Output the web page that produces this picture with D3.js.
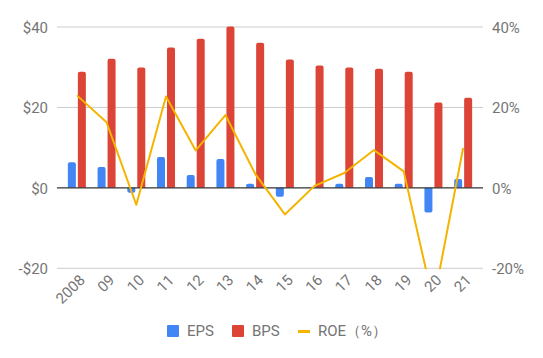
<!DOCTYPE html>
<html><head><meta charset="utf-8">
<script src="https://cdn.jsdelivr.net/npm/d3@7"></script>
<style>body{margin:0;background:#fff}svg{display:block}text{font-family:Roboto,sans-serif}</style>
</head><body><svg id="c" width="543" height="358"></svg>
<script>
const categories = ["2008","09","10","11","12","13","14","15","16","17","18","19","20","21"];
const eps = [6.4,5.2,-1.2,7.7,3.2,7.2,1.0,-2.2,0,1.0,2.7,1.0,-6.1,2.2];
const bps = [28.9,32.1,29.9,34.9,37.1,40.1,36.1,31.9,30.4,29.9,29.6,28.9,21.2,22.4];
const roe = [23.0,16.3,-4.2,22.7,9.3,18.1,3.5,-6.6,0.5,3.7,9.4,4.1,-28.5,9.9];
const leftTicks = [-20,0,20,40];
const rightTicks = [-20,0,20,40];
const seriesNames = ["EPS","BPS","ROE（%）"];
const colors = ["#4285f4","#db4437","#f4b400"];

const svg = d3.select("#c");
const gx0 = 57, gx1 = 483;
const x = d3.scaleBand().domain(categories).range([62,478]).paddingInner(0).paddingOuter(0);
const y = d3.scaleLinear().domain([-20,40]).range([268.3,27]);
const yr = d3.scaleLinear().domain([-20,40]).range([268.3,27]);

// gridlines
svg.append("g").selectAll("line").data(leftTicks.filter(d=>d!==0)).join("line")
  .attr("x1",gx0).attr("x2",gx1).attr("y1",d=>y(d)).attr("y2",d=>y(d))
  .attr("stroke","#cccccc").attr("stroke-width",1);

// left axis labels
const la = d3.axisLeft(y).tickValues(leftTicks).tickSize(0).tickPadding(0)
  .tickFormat(d=> d<0 ? "-$"+Math.abs(d) : "$"+d);
svg.append("g").attr("transform",`translate(${48},0)`).call(la)
  .call(g=>g.select(".domain").remove())
  .selectAll("text").attr("fill","#757575").attr("font-size",15).attr("dy","0.35em");

const ra = d3.axisRight(yr).tickValues(rightTicks).tickSize(0).tickPadding(0)
  .tickFormat(d=> d+"%");
svg.append("g").attr("transform",`translate(${492},0)`).call(ra)
  .call(g=>g.select(".domain").remove())
  .selectAll("text").attr("fill","#757575").attr("font-size",15).attr("dy","0.35em");

// bars with rounded outer end
const bw = 8, gap = 2;
function barPath(cx, v) {
  const y0 = y(0), y1 = y(v), r = 2;
  const x0 = cx, x1 = cx + bw;
  if (v === 0) return "";
  if (v > 0) {
    return `M${x0},${y0}V${y1+r}Q${x0},${y1} ${x0+r},${y1}H${x1-r}Q${x1},${y1} ${x1},${y1+r}V${y0}Z`;
  } else {
    return `M${x0},${y0}V${y1-r}Q${x0},${y1} ${x0+r},${y1}H${x1-r}Q${x1},${y1} ${x1},${y1-r}V${y0}Z`;
  }
}
const clip = svg.append("clipPath").attr("id","pc").append("rect")
  .attr("x",gx0).attr("y",y(40)-1).attr("width",gx1-gx0).attr("height",y(-20)-y(40)+2);

const gb = svg.append("g").attr("clip-path","url(#pc)");
gb.selectAll("path.eps").data(categories).join("path").attr("class","eps")
  .attr("d",(c,i)=>barPath(x(c)+x.bandwidth()/2 - bw - gap/2, eps[i])).attr("fill",colors[0]);
gb.selectAll("path.bps").data(categories).join("path").attr("class","bps")
  .attr("d",(c,i)=>barPath(x(c)+x.bandwidth()/2 + gap/2, bps[i])).attr("fill",colors[1]);

// zero line
svg.append("line").attr("x1",gx0).attr("x2",gx1).attr("y1",y(0)).attr("y2",y(0))
  .attr("stroke","#333333").attr("stroke-width",1.2);

// ROE line
const line = d3.line().x((d,i)=>x(categories[i])+x.bandwidth()/2).y(d=>yr(d));
svg.append("g").attr("clip-path","url(#pc)").append("path").datum(roe).attr("d",line)
  .attr("fill","none").attr("stroke",colors[2]).attr("stroke-width",2).attr("stroke-linejoin","round");

// x labels
svg.append("g").selectAll("text").data(categories).join("text")
  .attr("transform",c=>`translate(${x(c)+x.bandwidth()/2+9},${281}) rotate(-45)`)
  .attr("text-anchor","end").attr("fill","#757575").attr("font-size",15).text(c=>c);

// legend
const lg = svg.append("g");
const lx = [167,232,298];
lg.append("rect").attr("x",lx[0]).attr("y",325).attr("width",12).attr("height",12).attr("rx",1).attr("fill",colors[0]);
lg.append("rect").attr("x",lx[1]).attr("y",325).attr("width",12).attr("height",12).attr("rx",1).attr("fill",colors[1]);
lg.append("rect").attr("x",lx[2]).attr("y",330).attr("width",12).attr("height",3).attr("fill",colors[2]);
lg.selectAll("text").data(seriesNames).join("text")
  .attr("x",(d,i)=>lx[i]+20).attr("y",331).attr("dy","0.35em")
  .attr("fill","#757575").attr("font-size",15).text(d=>d);
</script></body></html>
